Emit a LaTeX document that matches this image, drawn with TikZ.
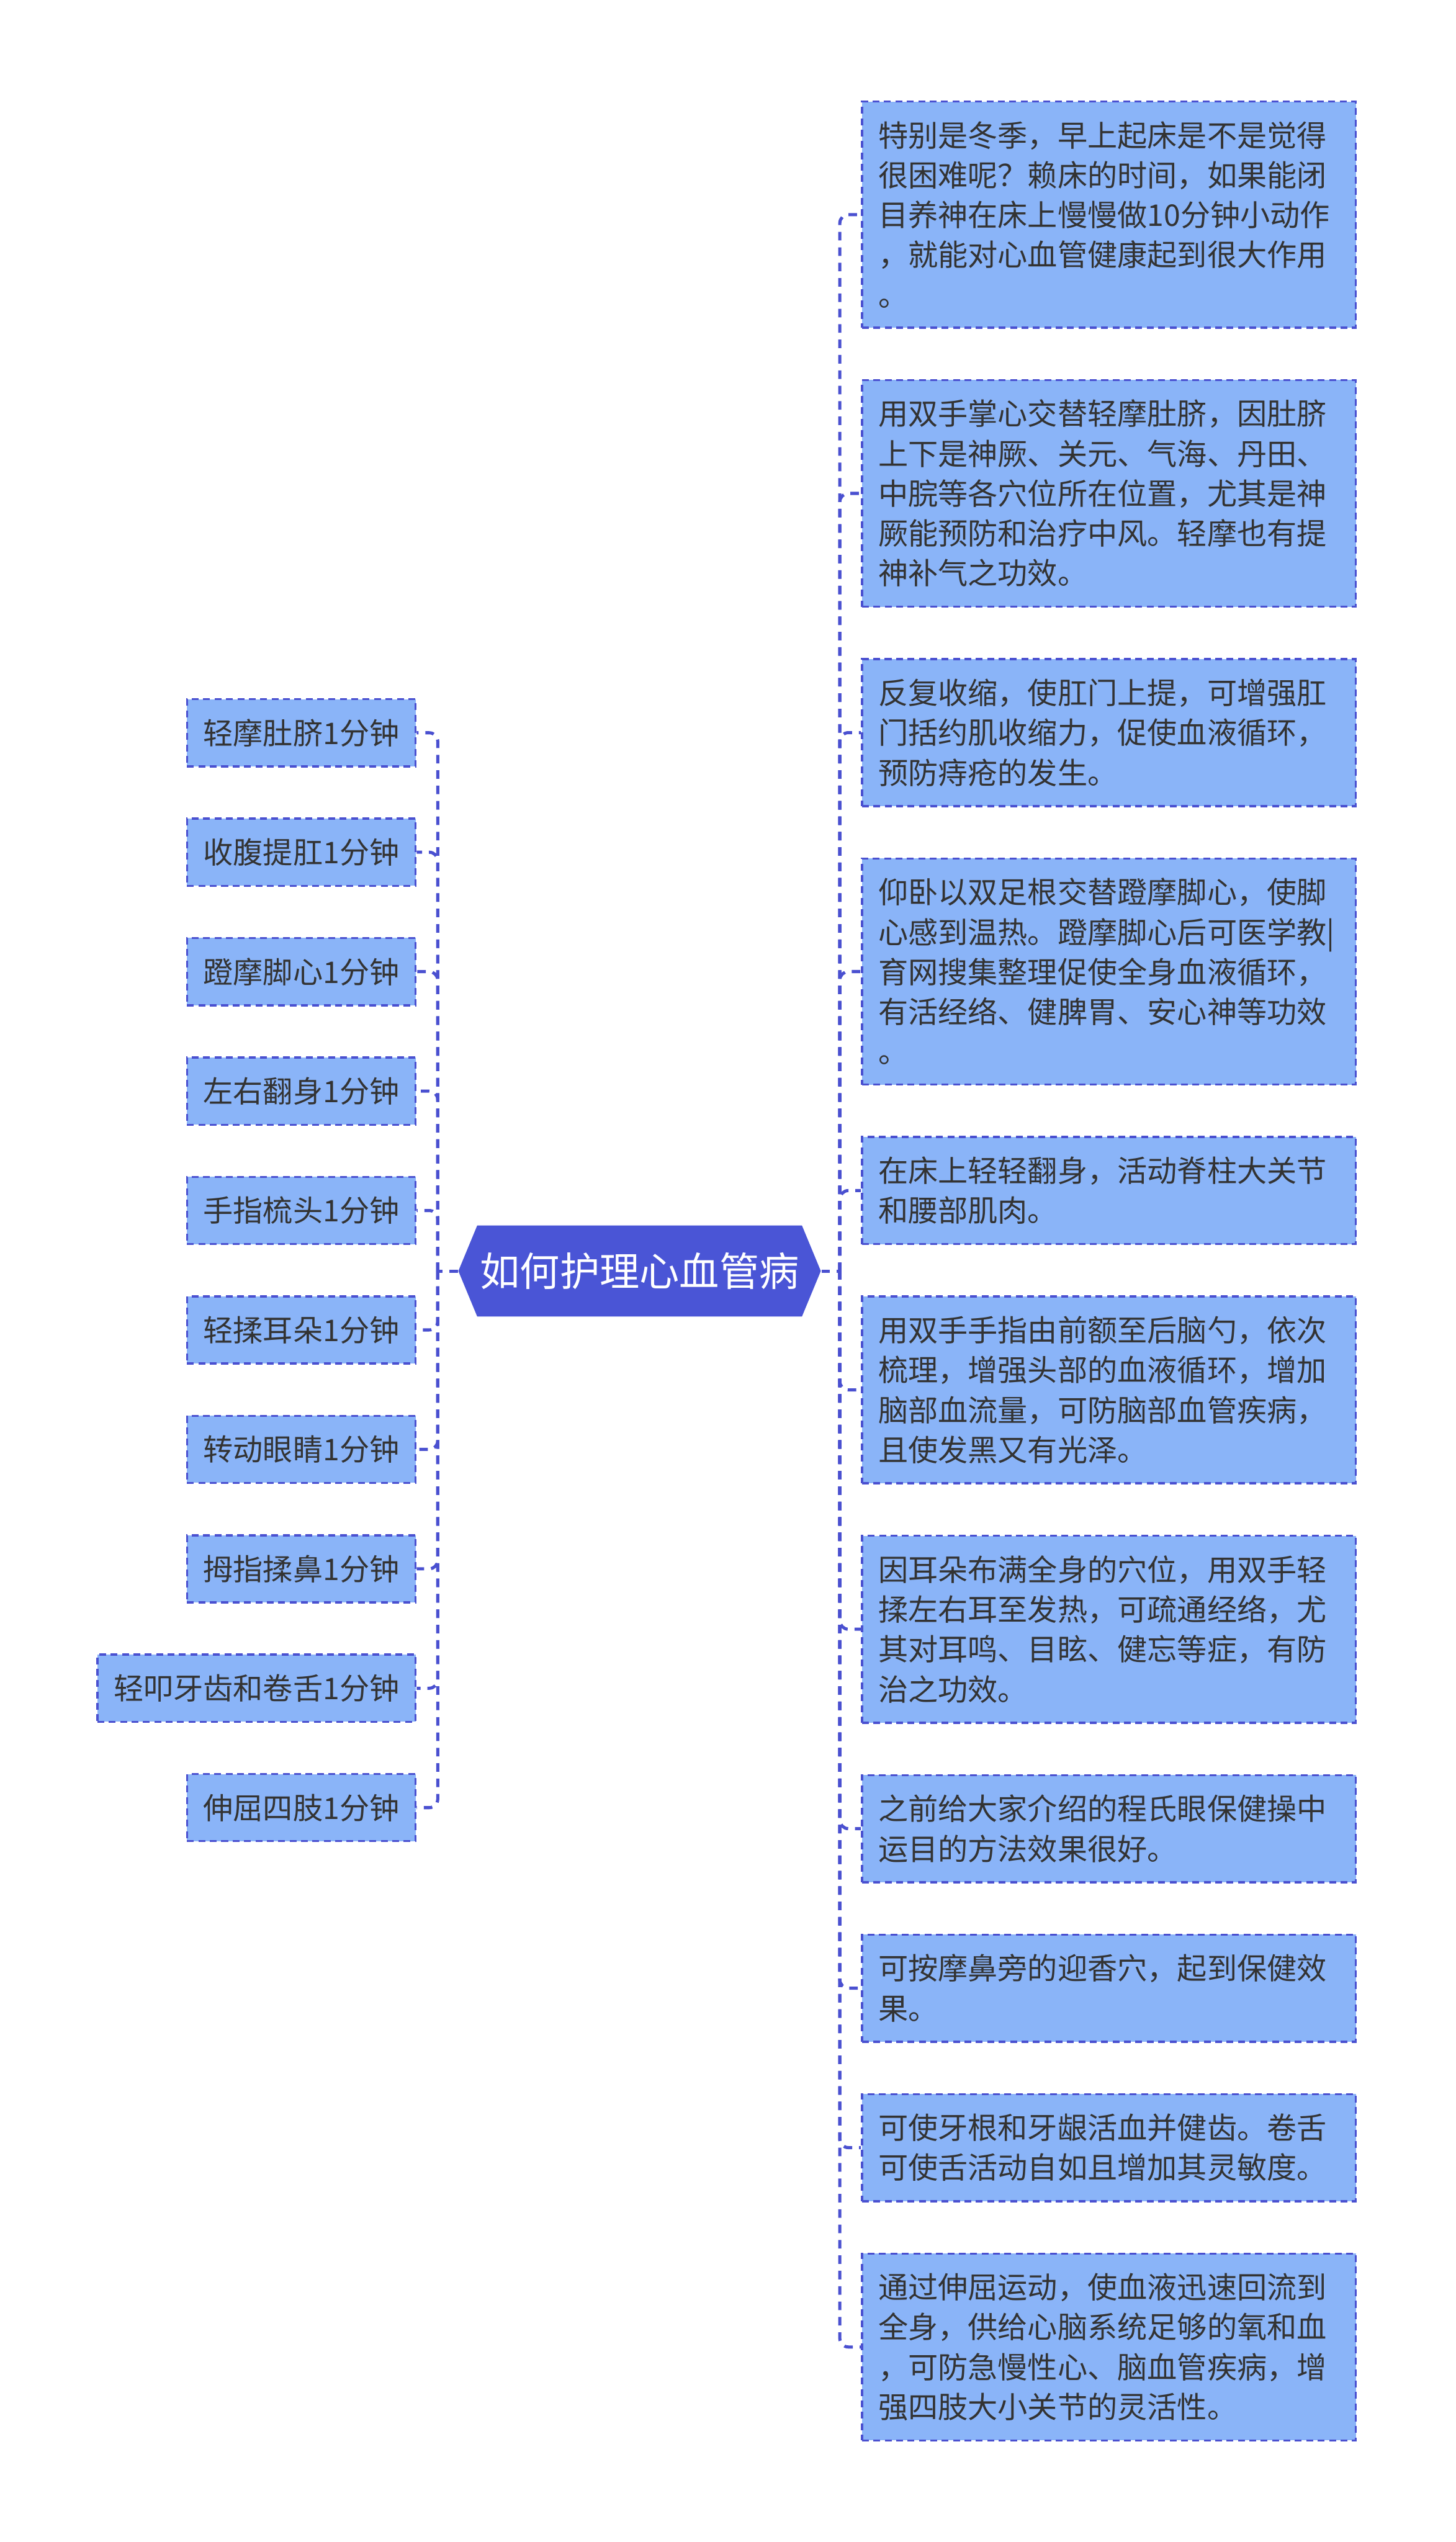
\documentclass[tikz,border=0pt]{standalone}
\usepackage{fontspec}
\setmainfont{Noto Sans CJK SC}
\usetikzlibrary{positioning,shapes.symbols}

\definecolor{nodefill}{HTML}{8AB4F8}
\definecolor{edgeblue}{HTML}{4A50D0}
\definecolor{rootfill}{HTML}{4A55D6}
\definecolor{inktext}{HTML}{333333}

\begin{document}
\begin{tikzpicture}[x=0.02cm,y=-0.02cm,node distance=0.62cm,
  box/.style={draw=edgeblue,fill=nodefill,line width=0.75pt,dash pattern=on 2.4pt off 1.6pt,
    text=inktext,font=\fontsize{10.5}{14}\selectfont,inner xsep=5.7pt,inner ysep=6.92pt},
  note/.style={box,text width=162pt,align=flush left},
  topic/.style={signal,signal to=west and east,signal pointer angle=135,fill=rootfill,
    text=white,font=\fontsize{14}{16}\selectfont,inner xsep=1pt,inner ysep=9.5pt},
  link/.style={draw=edgeblue,line width=1.1pt,dash pattern=on 3pt off 2.4pt}]
  \useasboundingbox (0,0) rectangle (898,1568);

  \node[topic] (root) at (394.5,784) {如何护理心血管病};

  % right side
  \node[note,anchor=north west] (r1) at (531,62) {特别是冬季，早上起床是不是觉得\\很困难呢？赖床的时间，如果能闭\\目养神在床上慢慢做10分钟小动作\\，就能对心血管健康起到很大作用\\。};
  \node[note,below=of r1] (r2) {用双手掌心交替轻摩肚脐，因肚脐\\上下是神厥、关元、气海、丹田、\\中脘等各穴位所在位置，尤其是神\\厥能预防和治疗中风。轻摩也有提\\神补气之功效。};
  \node[note,below=of r2] (r3) {反复收缩，使肛门上提，可增强肛\\门括约肌收缩力，促使血液循环，\\预防痔疮的发生。};
  \node[note,below=of r3] (r4) {仰卧以双足根交替蹬摩脚心，使脚\\心感到温热。蹬摩脚心后可医学教|\\育网搜集整理促使全身血液循环，\\有活经络、健脾胃、安心神等功效\\。};
  \node[note,below=of r4] (r5) {在床上轻轻翻身，活动脊柱大关节\\和腰部肌肉。};
  \node[note,below=of r5] (r6) {用双手手指由前额至后脑勺，依次\\梳理，增强头部的血液循环，增加\\脑部血流量，可防脑部血管疾病，\\且使发黑又有光泽。};
  \node[note,below=of r6] (r7) {因耳朵布满全身的穴位，用双手轻\\揉左右耳至发热，可疏通经络，尤\\其对耳鸣、目眩、健忘等症，有防\\治之功效。};
  \node[note,below=of r7] (r8) {之前给大家介绍的程氏眼保健操中\\运目的方法效果很好。};
  \node[note,below=of r8] (r9) {可按摩鼻旁的迎香穴，起到保健效\\果。};
  \node[note,below=of r9] (r10) {可使牙根和牙龈活血并健齿。卷舌\\可使舌活动自如且增加其灵敏度。};
  \node[note,below=of r10] (r11) {通过伸屈运动，使血液迅速回流到\\全身，供给心脑系统足够的氧和血\\，可防急慢性心、脑血管疾病，增\\强四肢大小关节的灵活性。};

  % left side
  \foreach \txt [count=\i] in {轻摩肚脐1分钟,收腹提肛1分钟,蹬摩脚心1分钟,左右翻身1分钟,手指梳头1分钟,
      轻揉耳朵1分钟,转动眼睛1分钟,拇指揉鼻1分钟,轻叩牙齿和卷舌1分钟,伸屈四肢1分钟}
    \node[box,anchor=east] (l\i) at (257,{452+73.67*(\i-1)}) {\txt};

  % connectors
  \coordinate (rjoint) at (518,784);
  \coordinate (ljoint) at (270,784);
  \draw[link] (root.east) -- (rjoint);
  \draw[link] (root.west) -- (ljoint);
  \foreach \i in {1,...,11}
    \draw[link,rounded corners=3pt] (rjoint) |- (r\i.west);
  \foreach \i in {1,...,10}
    \draw[link,rounded corners=3pt] (ljoint) |- (l\i.east);
\end{tikzpicture}
\end{document}
